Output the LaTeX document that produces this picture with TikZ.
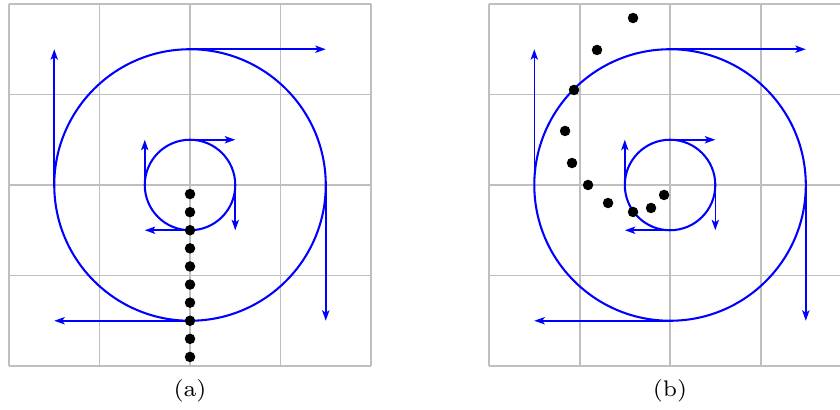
\documentclass[tikz,border=0pt]{standalone}
\usetikzlibrary{arrows.meta}
\begin{document}
\begin{tikzpicture}[
  gridline/.style={gray!50, line width=0.6pt},
  flow/.style={blue, line width=0.65pt},
  vec/.style={blue, line width=0.5pt, -{Stealth[length=3.3pt,width=2.3pt,inset=0.8pt]}},
  dotmark/.style={fill=black},
  lbl/.style={font=\fontsize{7.1}{8.5}\selectfont, inner sep=0pt}
]
\useasboundingbox (-0.0994,-0.475) rectangle (9.182,4.044);
\newcommand\panelbase{%
  \draw[gridline] (0,0) grid (4,4);
  \coordinate (c) at (2,2);
  \draw[flow] (c) circle (1.5);
  \draw[flow] (c) circle (0.5);
  % big circle velocity vectors
  \coordinate (bt) at (2,3.5); \coordinate (bte) at (3.5,3.5);
  \coordinate (bl) at (0.5,2); \coordinate (ble) at (0.5,3.5);
  \coordinate (bb) at (2,0.5); \coordinate (bbe) at (0.5,0.5);
  \coordinate (br) at (3.5,2); \coordinate (bre) at (3.5,0.5);
  \draw[vec] (bt) -- (bte);
  \draw[vec] (bl) -- (ble);
  \draw[vec] (bb) -- (bbe);
  \draw[vec] (br) -- (bre);
  % small circle velocity vectors
  \coordinate (st) at (2,2.5); \coordinate (ste) at (2.5,2.5);
  \coordinate (sl) at (1.5,2); \coordinate (sle) at (1.5,2.5);
  \coordinate (sb) at (2,1.5); \coordinate (sbe) at (1.5,1.5);
  \coordinate (sr) at (2.5,2); \coordinate (sre) at (2.5,1.5);
  \draw[vec] (st) -- (ste);
  \draw[vec] (sl) -- (sle);
  \draw[vec] (sb) -- (sbe);
  \draw[vec] (sr) -- (sre);
}
% panel (a)
\begin{scope}
  \panelbase
  \foreach \i in {0,...,9} \fill[dotmark] (2,{0.1+0.2*\i}) circle (0.058);
  \node[lbl] (la) at (2,-0.276) {(a)};
\end{scope}
% panel (b)
\begin{scope}[xshift=5.304cm]
  \panelbase
  \foreach \p in {(1.591,3.845),(1.193,3.492),(0.939,3.050),(0.840,2.597),(0.917,2.243),(1.094,2.0),(1.315,1.801),(1.591,1.702),(1.790,1.746),(1.934,1.890)}
    \fill[dotmark] \p circle (0.058);
  \node[lbl] (lb) at (2,-0.276) {(b)};
\end{scope}
\end{tikzpicture}
\end{document}
